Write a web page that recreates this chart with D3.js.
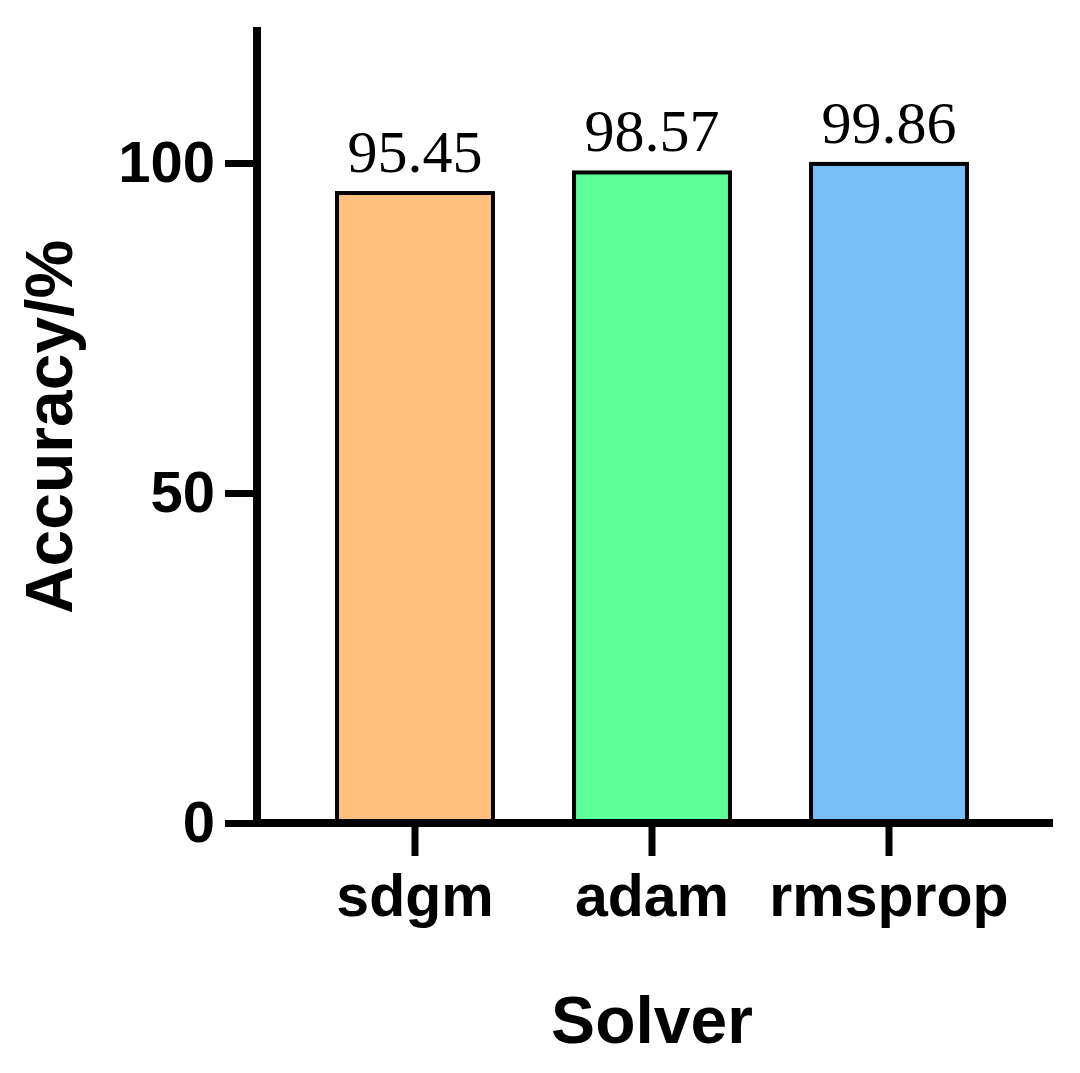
<!DOCTYPE html>
<html>
<head>
<meta charset="utf-8">
<script src="https://cdn.jsdelivr.net/npm/d3@7"></script>
<style>
  html, body { margin: 0; padding: 0; background: #fff; }
  svg { display: block; }
</style>
</head>
<body>
<script>
const categories = ["sdgm", "adam", "rmsprop"];
const values = [95.45, 98.57, 99.86];
const valueLabels = ["95.45", "98.57", "99.86"];
const colors = ["#FFC07E", "#5CFF98", "#78BEF8"];
const yTicks = [0, 50, 100];
const yTitle = "Accuracy/%";
const xTitle = "Solver";

const W = 1080, H = 1073;
const svg = d3.select("body").append("svg").attr("width", W).attr("height", H);

const axisX0 = 257, axisX1 = 1053, axisY0 = 823;
const y = d3.scaleLinear().domain([0, 120]).range([axisY0, 31]);
const x = d3.scaleBand().domain(categories).range([296.5, 1007.5])
  .paddingInner(0.342).paddingOuter(0.171);

const data = categories.map((c, i) => ({c, v: values[i], label: valueLabels[i], color: colors[i]}));

// bars
svg.selectAll("rect.bar").data(data).enter().append("rect")
  .attr("class", "bar")
  .attr("x", d => x(d.c))
  .attr("y", d => y(d.v))
  .attr("width", x.bandwidth())
  .attr("height", d => y(0) - y(d.v))
  .attr("fill", d => d.color)
  .attr("stroke", "#000")
  .attr("stroke-width", 4);

// value labels
svg.selectAll("text.val").data(data).enter().append("text")
  .attr("class", "val")
  .attr("x", d => x(d.c) + x.bandwidth() / 2)
  .attr("y", d => y(d.v) - 21)
  .attr("text-anchor", "middle")
  .attr("font-family", "'Liberation Serif', 'Times New Roman', serif")
  .attr("font-size", 60)
  .attr("fill", "#000")
  .text(d => d.label);

// y axis
const yAxis = d3.axisLeft(y).tickValues(yTicks).tickSize(32).tickSizeOuter(0).tickPadding(10);
const gy = svg.append("g").attr("transform", `translate(${axisX0},0)`).call(yAxis);
gy.select(".domain").remove();
gy.append("line").attr("x1", 0).attr("x2", 0).attr("y1", 27).attr("y2", axisY0 + 4)
  .attr("stroke", "#000").attr("stroke-width", 8);
gy.selectAll(".tick line").attr("stroke", "#000").attr("stroke-width", 7);
gy.selectAll(".tick text")
  .attr("font-family", "'Liberation Sans', Arial, sans-serif")
  .attr("font-weight", "bold")
  .attr("font-size", 58)
  .attr("fill", "#000");

// x axis
const xAxis = d3.axisBottom(x).tickSize(33).tickSizeOuter(0).tickPadding(18);
const gx = svg.append("g").attr("transform", `translate(0,${axisY0})`).call(xAxis);
gx.select(".domain").remove();
gx.append("line").attr("x1", axisX0 - 4).attr("x2", axisX1).attr("y1", 0).attr("y2", 0)
  .attr("stroke", "#000").attr("stroke-width", 8);
gx.selectAll(".tick line").attr("stroke", "#000").attr("stroke-width", 7);
gx.selectAll(".tick text")
  .attr("font-family", "'Liberation Sans', Arial, sans-serif")
  .attr("font-weight", "bold")
  .attr("font-size", 59)
  .attr("fill", "#000");

// axis titles
svg.append("text")
  .attr("transform", `translate(72,427) rotate(-90)`)
  .attr("text-anchor", "middle")
  .attr("font-family", "'Liberation Sans', Arial, sans-serif")
  .attr("font-weight", "bold")
  .attr("font-size", 66)
  .attr("fill", "#000")
  .text(yTitle);

svg.append("text")
  .attr("x", 652)
  .attr("y", 1043)
  .attr("text-anchor", "middle")
  .attr("font-family", "'Liberation Sans', Arial, sans-serif")
  .attr("font-weight", "bold")
  .attr("font-size", 66)
  .attr("fill", "#000")
  .text(xTitle);
</script>
</body>
</html>
